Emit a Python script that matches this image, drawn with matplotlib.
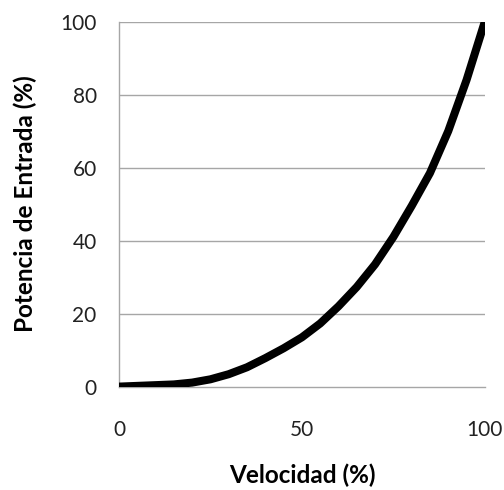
import matplotlib
matplotlib.use('Agg')
import matplotlib.pyplot as plt

# velocidad vs potencia de entrada (%)
velocidad = [0, 5, 10, 15, 20, 25, 30, 35, 40, 45, 50, 55, 60, 65, 70, 75, 80, 85, 90, 95, 100]
potencia = [0, 0.2, 0.4, 0.6, 1.1, 2.0, 3.4, 5.3, 7.8, 10.5, 13.5, 17.3, 22, 27.3, 33.5, 41, 49.5, 58.5, 70, 84, 100]

x_ticks = [0, 50, 100]
y_ticks = [0, 20, 40, 60, 80, 100]

plt.rcParams['font.family'] = ['Lato', 'DejaVu Sans']

fig = plt.figure(figsize=(5.04, 4.90), dpi=100)
ax = fig.add_axes([0.236, 0.211, 0.726, 0.745])

grid_col = '#a6a6a6'
for y in y_ticks[1:]:
    ax.axhline(y, color=grid_col, lw=1.0, zorder=1)

ax.plot(velocidad, potencia, color='black', lw=5.8, solid_capstyle='butt',
        solid_joinstyle='round', zorder=3)

ax.set_xlim(0, 100)
ax.set_ylim(0, 100)
ax.set_xticks(x_ticks)
ax.set_yticks(y_ticks)
ax.tick_params(axis='both', length=0, labelsize=15, colors='#222222')
ax.tick_params(axis='x', pad=24)
ax.tick_params(axis='y', pad=16)

for s in ['top', 'right']:
    ax.spines[s].set_visible(False)
for s in ['left', 'bottom']:
    ax.spines[s].set_color(grid_col)
    ax.spines[s].set_linewidth(1.0)

ax.set_xlabel('Velocidad (%)', fontsize=17.5, fontweight='bold', labelpad=17)
ax.set_ylabel('Potencia de Entrada (%)', fontsize=17.5, fontweight='bold', labelpad=17)

fig.savefig('out.png', dpi=100)
